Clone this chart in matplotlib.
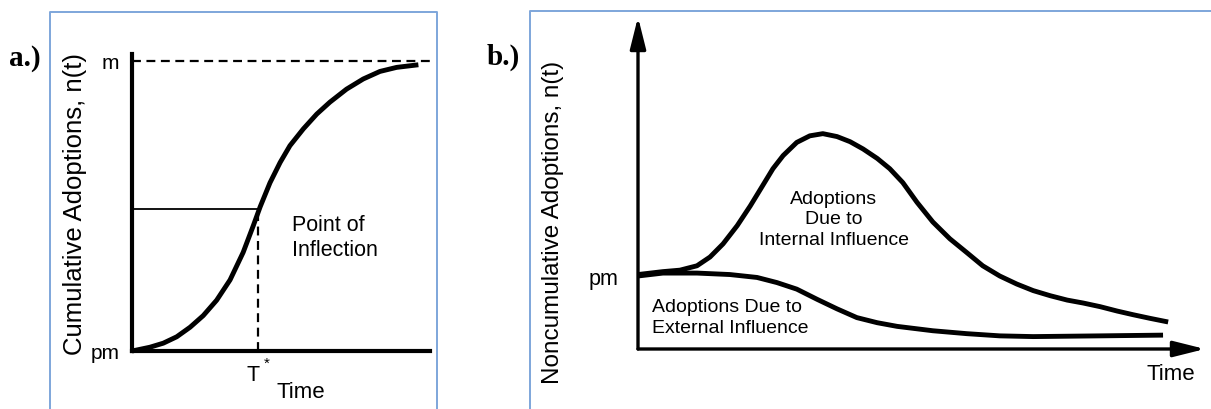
import matplotlib
matplotlib.use("Agg")
import matplotlib.pyplot as plt
from matplotlib.lines import Line2D

plt.rcParams['font.family'] = ['Liberation Sans', 'DejaVu Sans']

# ---------------- data ----------------
# panel a: cumulative adoptions (fraction of m) vs time
a_time = [0, 0.60, 1.05, 1.50, 1.95, 2.39, 2.84, 3.29, 3.73, 4.07, 4.30, 4.63,
          4.97, 5.30, 5.75, 6.20, 6.64, 7.20, 7.76, 8.32, 8.88, 9.61]
a_cum = [0, 0.013, 0.027, 0.049, 0.082, 0.122, 0.175, 0.245, 0.340, 0.432,
         0.497, 0.580, 0.650, 0.708, 0.766, 0.817, 0.858, 0.903, 0.938, 0.964,
         0.978, 0.987]
m_level = 1.0
t_star = 4.22
inflection_level = 0.49
a_yticks = [0, 1]
a_yticklabels = ['pm', 'm']

# panel b: noncumulative adoptions (units of pm) vs time
b_int_time = [0, 0.44, 0.74, 1.04, 1.27, 1.50, 1.75, 1.98, 2.20, 2.38, 2.56,
              2.80, 3.03, 3.26, 3.51, 3.74, 3.97, 4.22, 4.44, 4.67, 4.92,
              5.20, 5.50, 5.80, 6.08, 6.38, 6.68, 6.97, 7.27, 7.57, 7.85,
              8.15, 8.45, 8.73, 9.03, 9.35]
b_int_val = [1.02, 1.06, 1.08, 1.14, 1.26, 1.44, 1.69, 1.96, 2.24, 2.47, 2.65,
             2.83, 2.92, 2.95, 2.91, 2.84, 2.74, 2.61, 2.47, 2.28, 2.01,
             1.74, 1.51, 1.32, 1.14, 1.00, 0.89, 0.80, 0.73, 0.67, 0.63,
             0.58, 0.52, 0.47, 0.42, 0.37]
b_ext_time = [0, 0.44, 1.04, 1.62, 2.10, 2.45, 2.80, 3.16, 3.51, 3.86, 4.22,
              4.57, 5.20, 5.80, 6.38, 6.97, 8.15, 9.26]
b_ext_val = [1.00, 1.04, 1.04, 1.02, 0.98, 0.91, 0.82, 0.68, 0.55, 0.43, 0.36,
             0.31, 0.25, 0.21, 0.18, 0.17, 0.18, 0.19]
b_yticks = [1]
b_yticklabels = ['pm']

# ---------------- figure ----------------
W, H = 1211, 410
fig = plt.figure(figsize=(W / 100, H / 100), dpi=100)


def fx(x):
    return x / W


def fy(y):
    return 1 - y / H


border = '#7ea6da'
fig.add_artist(Line2D([fx(50), fx(50), fx(437), fx(437)],
                      [fy(412), fy(13), fy(13), fy(412)], color=border, lw=1.4))
fig.add_artist(Line2D([fx(530), fx(530), fx(1213)],
                      [fy(412), fy(12), fy(12)], color=border, lw=1.4))

# ---------- panel a ----------
ax1 = fig.add_axes([fx(132), fy(352), (430 - 132) / W, (352 - 55) / H])
ax1.set_xlim(0, 10)
ax1.set_ylim(0, 297 / 290)
for s in ['top', 'right']:
    ax1.spines[s].set_visible(False)
for s in ['left', 'bottom']:
    ax1.spines[s].set_linewidth(3.0)
ax1.set_xticks([])
ax1.set_yticks(a_yticks)
ax1.set_yticklabels(a_yticklabels, fontsize=15)
ax1.tick_params(axis='y', length=0, pad=9)

ax1.plot(a_time, a_cum, color='black', lw=3.5, solid_capstyle='butt',
         solid_joinstyle='round', clip_on=False)
ax1.plot([0, 10], [m_level, m_level], color='black', lw=1.6, ls=(0, (4, 2.5)), clip_on=False)
ax1.plot([0, t_star], [inflection_level, inflection_level], color='black', lw=1.3)
ax1.plot([t_star, t_star], [0, inflection_level], color='black', lw=1.6, ls=(0, (4, 2.5)))

fig.text(fx(253), fy(376), 'T', fontsize=15.5, ha='center', va='center')
fig.text(fx(267), fy(364), '*', fontsize=11, ha='center', va='center')
fig.text(fx(301), fy(393), 'Time', fontsize=16, ha='center', va='center')
fig.text(fx(292), fy(238), 'Point of\nInflection', fontsize=15.5, ha='left', va='center',
         linespacing=1.2)
fig.text(fx(75), fy(204), 'Cumulative Adoptions, n(t)', fontsize=18.5, rotation=90,
         ha='center', va='center')
fig.text(fx(9), fy(58), 'a.)', fontsize=21, fontweight='bold', ha='left', va='center',
         family=['Liberation Serif', 'DejaVu Serif'])

# ---------- panel b ----------
ax2 = fig.add_axes([fx(638), fy(350), (1205 - 638) / W, (350 - 18) / H])
ax2.set_xlim(0, 10)
ax2.set_ylim(0, 332 / 73)
for s in ax2.spines.values():
    s.set_visible(False)
ax2.set_xticks([])
ax2.set_yticks(b_yticks)
ax2.set_yticklabels(b_yticklabels, fontsize=15.5)
ax2.tick_params(axis='y', length=0, pad=14)

arrow = dict(arrowstyle='-|>,head_length=1.2,head_width=0.3', lw=2.4, color='black',
             shrinkA=0, shrinkB=0, mutation_scale=16)
ax2.annotate('', xy=(10, 0), xytext=(0, 0), arrowprops=arrow, annotation_clip=False)
ax2.annotate('', xy=(0, 332 / 73), xytext=(0, 0), arrowprops=arrow, annotation_clip=False)

ax2.plot(b_int_time, b_int_val, color='black', lw=3.5, solid_joinstyle='round',
         solid_capstyle='butt', clip_on=False)
ax2.plot(b_ext_time, b_ext_val, color='black', lw=3.5, solid_joinstyle='round',
         solid_capstyle='butt', clip_on=False)

fig.text(fx(834), fy(220), 'Adoptions\nDue to\nInternal Influence', fontsize=14,
         ha='center', va='center', multialignment='center', linespacing=1.3)
fig.text(fx(652), fy(318), 'Adoptions Due to\nExternal Influence', fontsize=14,
         ha='left', va='center', linespacing=1.3)
fig.text(fx(1171), fy(375), 'Time', fontsize=16, ha='center', va='center')
fig.text(fx(553), fy(222), 'Noncumulative Adoptions, n(t)', fontsize=17.5, rotation=90,
         ha='center', va='center')
fig.text(fx(487), fy(57), 'b.)', fontsize=21, fontweight='bold', ha='left', va='center',
         family=['Liberation Serif', 'DejaVu Serif'])

fig.savefig('out.png', dpi=100)
